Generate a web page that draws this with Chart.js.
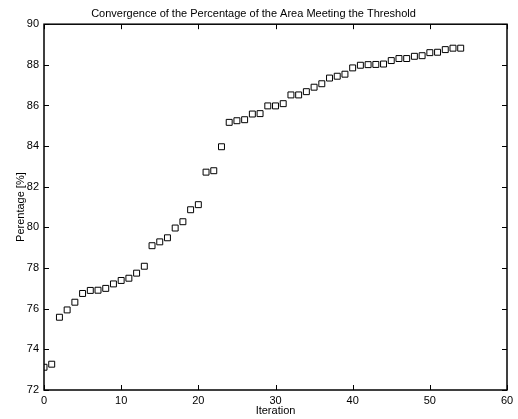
<!DOCTYPE html>
<html>
<head>
<meta charset="utf-8">
<script src="https://cdn.jsdelivr.net/npm/chart.js@4.4.0/dist/chart.umd.min.js"></script>
<style>
  html, body { margin: 0; padding: 0; background: #fff; }
  #wrap { width: 518px; height: 419px; position: relative; }
</style>
</head>
<body>
<div id="wrap"><canvas id="chart"></canvas></div>
<script>
// iteration number and the percentage of area meeting the threshold
const iterations = [
  0, 1, 2, 3, 4, 5, 6, 7, 8, 9,
  10, 11, 12, 13, 14, 15, 16, 17, 18, 19,
  20, 21, 22, 23, 24, 25, 26, 27, 28, 29,
  30, 31, 32, 33, 34, 35, 36, 37, 38, 39,
  40, 41, 42, 43, 44, 45, 46, 47, 48, 49,
  50, 51, 52, 53, 54
];
const percentages = [
  73.12, 73.27, 75.58, 75.94, 76.32, 76.75, 76.90, 76.91, 77.00, 77.22,
  77.39, 77.50, 77.75, 78.09, 79.10, 79.29, 79.49, 79.97, 80.28, 80.87,
  81.12, 82.72, 82.79, 83.97, 85.17, 85.25, 85.30, 85.58, 85.60, 85.98,
  85.98, 86.09, 86.52, 86.52, 86.68, 86.90, 87.07, 87.35, 87.44, 87.54,
  87.85, 87.98, 88.01, 88.02, 88.04, 88.21, 88.31, 88.31, 88.42, 88.45,
  88.60, 88.62, 88.75, 88.82, 88.82
];
const xTicks = [0, 10, 20, 30, 40, 50, 60];
const yTicks = [72, 74, 76, 78, 80, 82, 84, 86, 88, 90];

const FONT = "'Liberation Sans', Arial, Helvetica, sans-serif";

// matlab style box with inward tick marks on all four sides
const boxPlugin = {
  id: 'matlabBox',
  afterDraw(chart) {
    const { ctx, chartArea: a, scales } = chart;
    const len = 5;
    ctx.save();
    ctx.strokeStyle = '#000';
    ctx.lineWidth = 1;
    ctx.beginPath();
    xTicks.forEach(v => {
      const px = Math.round(scales.x.getPixelForValue(v)) + 0.5;
      ctx.moveTo(px, a.bottom); ctx.lineTo(px, a.bottom - len);
      ctx.moveTo(px, a.top); ctx.lineTo(px, a.top + len);
    });
    yTicks.forEach(v => {
      const py = Math.round(scales.y.getPixelForValue(v)) + 0.5;
      ctx.moveTo(a.left, py); ctx.lineTo(a.left + len, py);
      ctx.moveTo(a.right, py); ctx.lineTo(a.right - len, py);
    });
    ctx.stroke();
    ctx.lineWidth = 1.5;
    ctx.strokeRect(a.left, a.top, a.right - a.left, a.bottom - a.top);
    ctx.restore();
  }
};

const points = iterations.map((it, i) => ({ x: it, y: percentages[i] }));

new Chart(document.getElementById('chart'), {
  type: 'scatter',
  data: {
    datasets: [{
      label: 'Percentage',
      data: points,
      pointStyle: 'rect',
      pointRadius: 4.2,
      pointHoverRadius: 4.2,
      pointBorderWidth: 1,
      pointBorderColor: '#000',
      pointBackgroundColor: 'rgba(0,0,0,0)'
    }]
  },
  options: {
    responsive: true,
    maintainAspectRatio: false,
    animation: false,
    layout: { padding: { top: 1, right: 11, bottom: 0, left: 0 } },
    plugins: {
      legend: { display: false },
      tooltip: { enabled: false },
      title: {
        display: true,
        text: 'Convergence of the Percentage of the Area Meeting the Threshold',
        color: '#000',
        font: { family: FONT, size: 11, weight: 'normal' },
        padding: { top: 6, bottom: 4 }
      }
    },
    scales: {
      x: {
        type: 'linear',
        min: 0, max: 60,
        afterBuildTicks: (s) => { s.ticks = xTicks.map(v => ({ value: v })); },
        afterFit: (s) => { s.height = 29; },
        grid: { display: false, drawTicks: false },
        border: { display: false },
        ticks: { color: '#000', padding: 4, maxRotation: 0, font: { family: FONT, size: 11 } },
        title: {
          display: true, text: 'Iteration', color: '#000',
          font: { family: FONT, size: 11 }, padding: { top: 0, bottom: 1 }
        }
      },
      y: {
        type: 'linear',
        min: 72, max: 90,
        afterBuildTicks: (s) => { s.ticks = yTicks.map(v => ({ value: v })); },
        afterFit: (s) => { s.width = 44; },
        grid: { display: false, drawTicks: false },
        border: { display: false },
        ticks: { color: '#000', padding: 5, font: { family: FONT, size: 11 } },
        title: {
          display: true, text: 'Perentage [%]', color: '#000',
          font: { family: FONT, size: 11 }, padding: { top: 14, bottom: 0 }
        }
      }
    }
  },
  plugins: [boxPlugin]
});
</script>
</body>
</html>
